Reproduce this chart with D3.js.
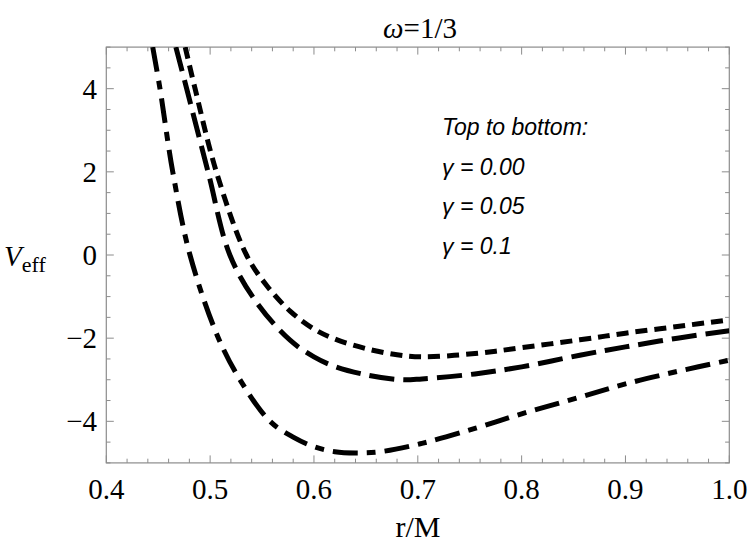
<!DOCTYPE html>
<html>
<head>
<meta charset="utf-8">
<script src="https://cdn.jsdelivr.net/npm/d3@7"></script>
<style>
  body { margin: 0; background: #fff; }
  text { fill: #000; }
</style>
</head>
<body>
<div id="chart"></div>
<script>
// values: [r/M, Veff]
const gamma000 = [[0.476, 5.0], [0.4855, 4.0], [0.506, 2.0], [0.535, 0.0], [0.555, -0.75], [0.577, -1.35],
    [0.60, -1.78], [0.62, -2.02], [0.65, -2.25], [0.68, -2.4], [0.704, -2.45], [0.755, -2.37],
    [0.80, -2.23], [0.856, -2.04], [0.90, -1.88], [0.95, -1.72], [1.0, -1.56]];
const gamma005 = [[0.467, 5.0], [0.4774, 4.0], [0.498, 2.0], [0.519, 0.0], [0.545, -1.15], [0.577, -2.05],
    [0.60, -2.45], [0.62, -2.68], [0.65, -2.88], [0.684, -3.0], [0.704, -2.98], [0.755, -2.86],
    [0.80, -2.69], [0.856, -2.41], [0.90, -2.21], [0.95, -2.0], [1.0, -1.82]];
const gamma010 = [[0.4447, 5.0], [0.4517, 4.0], [0.464, 2.0], [0.4806, 0.0], [0.508, -2.0], [0.53, -3.05],
    [0.5577, -4.0], [0.58, -4.38], [0.60, -4.61], [0.62, -4.73], [0.64, -4.76], [0.664, -4.73], [0.704, -4.53],
    [0.755, -4.17], [0.80, -3.82], [0.856, -3.42], [0.90, -3.1], [0.95, -2.8], [1.0, -2.53]];

const xTicks = [0.4, 0.5, 0.6, 0.7, 0.8, 0.9, 1.0];
const yTicks = [-4, -2, 0, 2, 4];
const legendLines = ["Top to bottom:", "γ = 0.00", "γ = 0.05", "γ = 0.1"];

const width = 750, height = 555;
const margin = {left: 106.3, right: 20.7, top: 47.1, bottom: 92.1};

const svg = d3.select('#chart').append('svg')
    .attr('width', width)
    .attr('height', height);

const x = d3.scaleLinear().domain([0.4, 1.0]).range([margin.left, width - margin.right]);
const y = d3.scaleLinear().domain([-5, 5]).range([height - margin.bottom, margin.top]);

svg.append('clipPath').attr('id', 'clip')
    .append('rect')
    .attr('x', x(0.4)).attr('y', y(5))
    .attr('width', x(1.0) - x(0.4)).attr('height', y(-5) - y(5));

// ticks on all four sides, pointing inwards
const frameColor = '#8c8c8c';
const xMinor = d3.range(0.4, 1.0001, 0.02).map(d => +d.toFixed(2));
const yMinor = d3.range(-5, 5.0001, 0.5);

const ticks = svg.append('g').attr('stroke', frameColor).attr('stroke-width', 1);
xMinor.forEach(d => {
    const major = xTicks.some(t => Math.abs(t - d) < 1e-6);
    const len = major ? 7.5 : 4.2;
    ticks.append('line').attr('x1', x(d)).attr('x2', x(d)).attr('y1', y(-5)).attr('y2', y(-5) - len);
    ticks.append('line').attr('x1', x(d)).attr('x2', x(d)).attr('y1', y(5)).attr('y2', y(5) + len);
});
yMinor.forEach(d => {
    const major = yTicks.includes(d);
    const len = major ? 7.5 : 4.2;
    ticks.append('line').attr('y1', y(d)).attr('y2', y(d)).attr('x1', x(0.4)).attr('x2', x(0.4) + len);
    ticks.append('line').attr('y1', y(d)).attr('y2', y(d)).attr('x1', x(1.0)).attr('x2', x(1.0) - len);
});

svg.append('rect')
    .attr('x', x(0.4)).attr('y', y(5))
    .attr('width', x(1.0) - x(0.4)).attr('height', y(-5) - y(5))
    .attr('fill', 'none')
    .attr('stroke', frameColor)
    .attr('stroke-width', 1.2);

// tick labels
const serif = '"Liberation Serif", "Times New Roman", serif';
svg.append('g').selectAll('text').data(xTicks).join('text')
    .attr('x', d => x(d))
    .attr('y', 499)
    .attr('text-anchor', 'middle')
    .style('font-family', serif)
    .style('font-size', '29px')
    .text(d => d.toFixed(1));

svg.append('g').selectAll('text').data(yTicks).join('text')
    .attr('x', 97)
    .attr('y', d => y(d) + 10)
    .attr('text-anchor', 'end')
    .style('font-family', serif)
    .style('font-size', '29px')
    .text(d => d < 0 ? '\u2212' + Math.abs(d) : d);

// title and axis labels
const title = svg.append('text')
    .attr('x', 420).attr('y', 38)
    .attr('text-anchor', 'middle')
    .style('font-family', serif)
    .style('font-size', '29px');
title.append('tspan').style('font-style', 'italic').text('ω');
title.append('tspan').text('=1/3');

svg.append('text')
    .attr('x', 418).attr('y', 537)
    .attr('text-anchor', 'middle')
    .style('font-family', serif)
    .style('font-size', '30px')
    .text('r/M');

const ylab = svg.append('text')
    .attr('x', 4).attr('y', 266)
    .style('font-family', serif)
    .style('font-size', '29px');
ylab.append('tspan').style('font-style', 'italic').text('V');
ylab.append('tspan').attr('dy', 6).style('font-size', '22px').text('eff');

// curves
const line = d3.line()
    .x(d => x(d[0]))
    .y(d => y(d[1]))
    .curve(d3.curveCatmullRom.alpha(0.5));

const series = [
    {data: gamma000, dash: '12,7'},
    {data: gamma005, dash: '25,9'},
    {data: gamma010, dash: '25,9,9,9'}
];

svg.append('g').attr('clip-path', 'url(#clip)')
    .selectAll('path').data(series).join('path')
    .attr('d', d => line(d.data))
    .attr('fill', 'none')
    .attr('stroke', '#000')
    .attr('stroke-width', 5)
    .attr('stroke-dasharray', d => d.dash);

// legend
svg.append('g').selectAll('text').data(legendLines).join('text')
    .attr('x', 442)
    .attr('y', (d, i) => 135 + i * 39.5)
    .style('font-family', '"Liberation Sans", Arial, sans-serif')
    .style('font-style', 'italic')
    .style('font-size', '23px')
    .text(d => d);
</script>
</body>
</html>
